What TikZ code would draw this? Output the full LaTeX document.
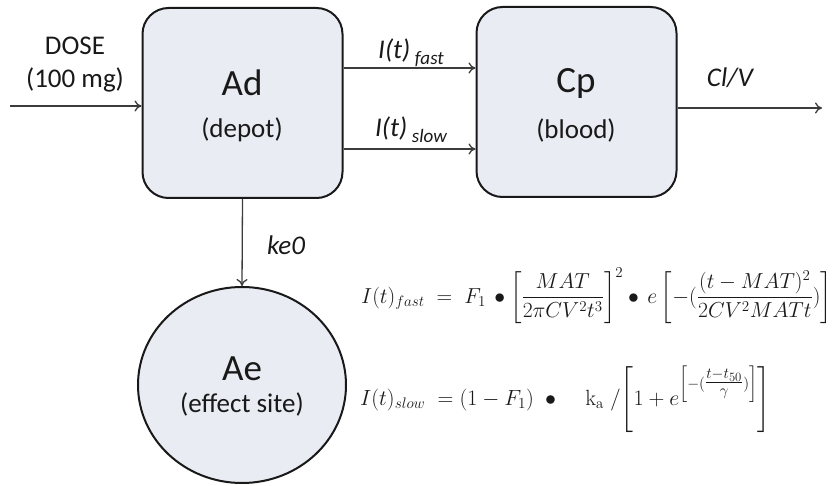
\documentclass[tikz,border=0pt]{standalone}
\usepackage{amsmath}
\usepackage{graphicx}
\usepackage[no-math]{fontspec}
\setmainfont{Carlito}
\usetikzlibrary{shapes.geometric,arrows.meta}
\definecolor{boxfill}{RGB}{233,236,242}
\definecolor{edge}{RGB}{25,25,25}
\definecolor{arr}{RGB}{60,60,60}
\tikzset{
  comp/.style={draw=edge,line width=2pt,fill=boxfill,rounded corners=26pt,minimum width=200pt,minimum height=190pt,inner sep=0pt},
  circ/.style={draw=edge,line width=2pt,fill=boxfill,ellipse,minimum width=208pt,minimum height=196pt,inner sep=0pt},
  flow/.style={draw=arr,line width=1.3pt,-{To[length=7pt,width=11pt]}},
  big/.style={font=\fontsize{37}{40}\selectfont,text=edge},
  sub/.style={font=\fontsize{27}{30}\selectfont,text=edge},
  lab/.style={font=\fontsize{27}{30}\selectfont\itshape,text=edge},
  eqn/.style={font=\fontsize{20.74}{25}\selectfont,text=edge,inner sep=0pt}
}
\begin{document}
\begin{tikzpicture}[x=1pt,y=-1pt]
\useasboundingbox (0,0) rectangle (835,486);
% compartments
\node[comp] (Ad) at (242.5,103) {};
\node[comp] (Cp) at (576.5,102) {};
\node[circ] (Ae) at (242,385) {};
% texts in compartments
\node[big] (adname) at (242,83) {Ad};
\node[sub] (adsub) at (242,130) {(depot)};
\node[big] (cpname) at (576,83) {Cp};
\node[sub] (cpsub) at (576,130) {(blood)};
\node[big] (aename) at (242,369) {Ae};
\node[sub] (aesub) at (242,404) {(effect site)};
% coordinates for connectors
\coordinate (dosestart) at (10,106);
\coordinate (fy) at (0,68);
\coordinate (sy) at (0,149);
\coordinate (outend) at (822,108);
% connectors
\draw[flow] (dosestart) -- (dosestart -| Ad.west);
\draw[flow] (Ad.east |- fy) -- (Cp.west |- fy);
\draw[flow] (Ad.east |- sy) -- (Cp.west |- sy);
\draw[flow] (Cp.east |- outend) -- (outend);
\draw[flow] (Ad.south) -- (Ae.north);
% labels
\node[sub] (dose) at (75,46) {DOSE};
\node[sub] (dosemg) at (75,80) {(100 mg)};
\node[lab,anchor=base] (fastlab) at (411,59) {I(t)\,\raisebox{-6pt}{\fontsize{19}{20}\selectfont fast}};
\node[lab,anchor=base] (slowlab) at (411,137) {I(t)\,\raisebox{-6pt}{\fontsize{19}{20}\selectfont slow}};
\node[lab] (clv) at (730,78) {Cl/V};
\node[lab] (ke) at (286,245) {ke0};
% equations
\node[eqn,anchor=base west] (eqfast) at (361,303) {\scalebox{1.045}{$I(t)_{fast}\;=\;F_1\,\bullet\left[\dfrac{MAT}{2\pi CV^2t^3}\right]^2\bullet\, e\left[-(\dfrac{(t-MAT)^2}{2CV^2MATt})\right]$}};
\node[eqn,anchor=base west] (eqslow) at (360,405) {\scalebox{1.06}{$I(t)_{slow}\;=(1-F_1)\;\bullet\;\;\;\; \mathrm{k_a}\;/\!\left[1+e^{\left[-(\tfrac{t-t_{50}}{\gamma})\right]}\right]$}};
\end{tikzpicture}
\end{document}
